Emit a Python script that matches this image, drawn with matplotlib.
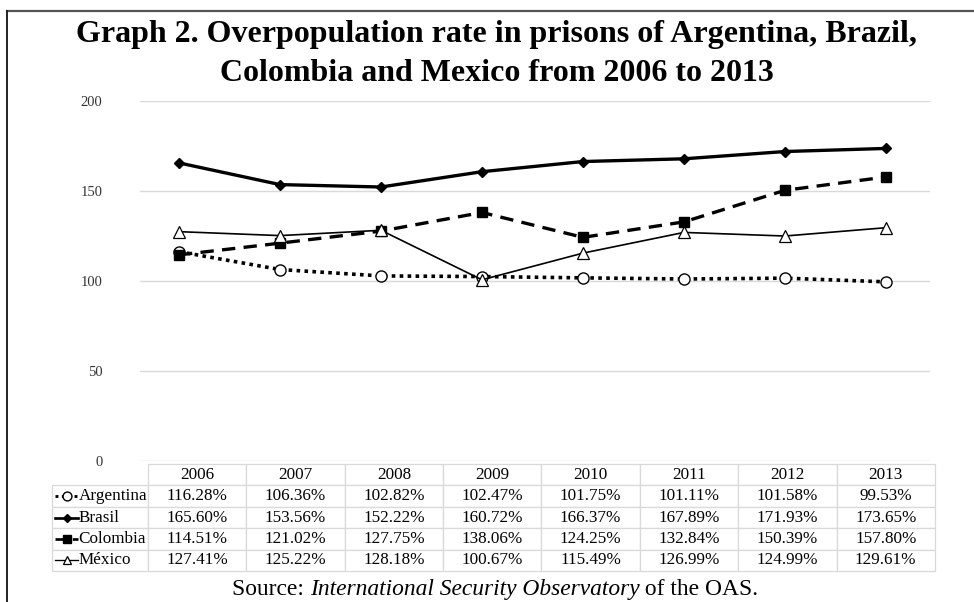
import numpy as np
import matplotlib.pyplot as plt
from matplotlib.lines import Line2D

plt.rcParams['font.family'] = ['Liberation Serif', 'DejaVu Serif']

years = ['2006', '2007', '2008', '2009', '2010', '2011', '2012', '2013']
countries = ['Argentina', 'Brasil', 'Colombia', 'México']
argentina = [116.28, 106.36, 102.82, 102.47, 101.75, 101.11, 101.58, 99.53]
brasil = [165.60, 153.56, 152.22, 160.72, 166.37, 167.89, 171.93, 173.65]
colombia = [114.51, 121.02, 127.75, 138.06, 124.25, 132.84, 150.39, 157.80]
mexico = [127.41, 125.22, 128.18, 100.67, 115.49, 126.99, 124.99, 129.61]
yticks = [0, 50, 100, 150, 200]

series = [argentina, brasil, colombia, mexico]
styles = [
    dict(ls=(0, (1, 1.2)), lw=2.6, marker='o', ms=8, mfc='white', mec='black', mew=1.0),
    dict(ls='-', lw=2.4, marker='D', ms=5.5, mfc='black', mec='black', mew=1.0),
    dict(ls=(0, (4, 2.5)), lw=2.4, marker='s', ms=7.5, mfc='black', mec='black', mew=1.0),
    dict(ls='-', lw=1.2, marker='^', ms=8, mfc='white', mec='black', mew=0.9),
]

fig = plt.figure(figsize=(9.74, 6.02), dpi=100)
ax = fig.add_axes([140 / 974, 1 - 461 / 602, 790 / 974, 360 / 602])

x = np.arange(len(years))
for vals, st in zip(series, styles):
    ax.plot(x, vals, color='black', zorder=3, clip_on=False, **st)

ax.set_xlim(-0.386, 7.436)
ax.set_ylim(0, 200)
ax.set_yticks(yticks)
ax.set_xticks([])
ax.grid(axis='y', color='#d9d9d9', lw=1.0)
ax.set_axisbelow(True)
for s in ax.spines.values():
    s.set_visible(False)
ax.tick_params(axis='y', length=0, pad=27, labelsize=10.5, labelcolor='#333333')
for lab in ax.get_yticklabels():
    lab.set_horizontalalignment('right')

# data table under the plot
cell_text = [[name] + [f'{v:.2f}%' for v in vals] for name, vals in zip(countries, series)]
col_w = [96] + [98.4] * len(years)
tb = [-0.1114, -0.3056, 1.1177, 0.2972]
tab = ax.table(cellText=cell_text, colLabels=[''] + years, colWidths=col_w,
               cellLoc='center', bbox=tb)
tab.auto_set_font_size(False)
tab.set_fontsize(12.3)
for (r, c), cell in tab.get_celld().items():
    cell.set_edgecolor('#d9d9d9')
    cell.set_linewidth(0.9)
    cell.get_text().set_fontfamily('Liberation Serif')
    if c == 0:
        cell.get_text().set_horizontalalignment('left')
        cell.PAD = 0.275
    if r == 0 and c == 0:
        cell.visible_edges = ''

# legend keys in the label column
row_h = tb[3] / 5
for i, st in enumerate(styles):
    yk = tb[1] + row_h * (3.5 - i)
    ax.plot([-0.1076, -0.0785], [yk, yk], transform=ax.transAxes, clip_on=False,
            color='black', ls=st['ls'], lw=st['lw'] * 0.8)
    ax.plot([-0.093], [yk], transform=ax.transAxes, clip_on=False, ls='none',
            marker=st['marker'], ms=st['ms'] * 0.8, mfc=st['mfc'], mec=st['mec'],
            mew=st['mew'])

# title
fig.text(0.51, 0.911, 'Graph 2. Overpopulation rate in prisons of Argentina, Brazil,\n'
         'Colombia and Mexico from 2006 to 2013',
         ha='center', va='center', fontsize=23, fontweight='bold', linespacing=1.45)

# source line with italic part
t1 = fig.text(232 / 974, 1 - 595 / 602, 'Source: ', fontsize=16.9, va='baseline')
a2 = ax.annotate('International Security Observatory', xy=(1, 0), xycoords=t1,
                 va='bottom', fontsize=16.9, style='italic', annotation_clip=False)
ax.annotate(' of the OAS.', xy=(1, 0), xycoords=a2, va='bottom', fontsize=16.9,
            annotation_clip=False)

# page border
fig.add_artist(Line2D([7 / 974, 1], [1 - 11 / 602] * 2, color='#555555', lw=1.6))
fig.add_artist(Line2D([7 / 974] * 2, [0, 1 - 11 / 602], color='#222222', lw=1.4))

fig.savefig('out.png', dpi=100)
